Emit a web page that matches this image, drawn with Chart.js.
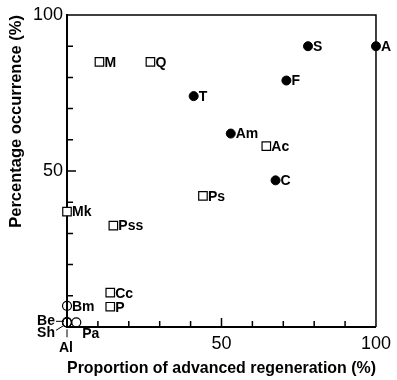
<!DOCTYPE html>
<html>
<head>
<meta charset="utf-8">
<script src="https://cdn.jsdelivr.net/npm/chart.js@4"></script>
<style>
  body { margin: 0; background: #fff; }
  #wrap { width: 397px; height: 380px; }
</style>
</head>
<body>
<div id="wrap"><canvas id="regenChart"></canvas></div>
<script>
// filled circles
const closedNames = ['A', 'S', 'F', 'T', 'Am', 'C'];
const closedX = [100, 78, 71, 41, 53, 67.5];
const closedY = [90, 90, 79, 74, 62, 47];

// open squares
const squareNames = ['M', 'Q', 'Ac', 'Ps', 'Mk', 'Pss', 'Cc', 'P'];
const squareX = [10.5, 27, 64.5, 44, 0, 15, 14, 14];
const squareY = [85, 85, 58, 42, 37, 32.5, 11, 6.5];

// open circles
const openNames = ['Bm', 'Be', 'Sh', 'Al', 'Pa'];
const openX = [0, 0, 0, 0, 3];
const openY = [6.8, 1.5, 1.5, 1.5, 1.5];

const tickValues = [10, 20, 30, 40, 50, 60, 70, 80, 90];
const tickLabels = [50, 100];

function toPoints(xs, ys) {
    return xs.map(function (x, i) { return { x: x, y: ys[i] }; });
}

// labels that sit away from their point, with a short leader line
const specialLabels = {
    Be: { dx: -12, dy: -1, align: 'right', line: [-11, -1, -3, -1] },
    Sh: { dx: -12, dy: 11, align: 'right', line: [-11, 8, -3, 3] },
    Al: { dx: -1, dy: 26, align: 'center', line: [0, 7, 0, 15] },
    Pa: { dx: 6, dy: 12, align: 'left', line: null }
};

const markLabels = {
    id: 'markLabels',
    afterDatasetsDraw(chart) {
        const ctx = chart.ctx;
        const area = chart.chartArea;
        const xs = chart.scales.x, ys = chart.scales.y;
        ctx.save();
        ctx.strokeStyle = '#000';

        // frame on top and right
        ctx.lineWidth = 1.5;
        ctx.beginPath();
        ctx.moveTo(area.left, area.top);
        ctx.lineTo(area.right, area.top);
        ctx.lineTo(area.right, area.bottom);
        ctx.stroke();

        // inward ticks
        ctx.lineWidth = 1.5;
        tickValues.forEach(function (v) {
            const len = v === 50 ? 9 : 6;
            const px = xs.getPixelForValue(v);
            const py = ys.getPixelForValue(v);
            ctx.beginPath();
            ctx.moveTo(px, area.bottom);
            ctx.lineTo(px, area.bottom - len);
            ctx.moveTo(area.left, py);
            ctx.lineTo(area.left + len, py);
            ctx.stroke();
        });

        ctx.font = 'bold 14px "Liberation Sans", Arial, sans-serif';
        ctx.fillStyle = '#000';
        ctx.textBaseline = 'middle';
        chart.data.datasets.forEach(function (ds, di) {
            const meta = chart.getDatasetMeta(di);
            meta.data.forEach(function (el, i) {
                const name = ds.names[i];
                const sp = specialLabels[name];
                ctx.lineWidth = 1;
                if (sp) {
                    if (sp.line) {
                        ctx.beginPath();
                        ctx.moveTo(el.x + sp.line[0], el.y + sp.line[1]);
                        ctx.lineTo(el.x + sp.line[2], el.y + sp.line[3]);
                        ctx.stroke();
                    }
                    ctx.textAlign = sp.align;
                    ctx.fillText(name, el.x + sp.dx, el.y + sp.dy);
                } else {
                    ctx.textAlign = 'left';
                    ctx.fillText(name, el.x + 5, el.y + 1);
                }
            });
        });
        ctx.restore();
    }
};

document.addEventListener('DOMContentLoaded', function () {
    const ctx = document.getElementById('regenChart');
    new Chart(ctx, {
        type: 'scatter',
        data: {
            datasets: [{
                names: closedNames,
                data: toPoints(closedX, closedY),
                pointStyle: 'circle',
                pointRadius: 4.5,
                backgroundColor: '#000',
                borderColor: '#000',
                borderWidth: 1
            }, {
                names: squareNames,
                data: toPoints(squareX, squareY),
                pointStyle: 'rect',
                pointRadius: 6,
                backgroundColor: '#fff',
                borderColor: '#000',
                borderWidth: 1.2
            }, {
                names: openNames,
                data: toPoints(openX, openY),
                pointStyle: 'circle',
                pointRadius: 4.5,
                backgroundColor: 'rgba(255,255,255,0)',
                borderColor: '#000',
                borderWidth: 1.2
            }]
        },
        plugins: [markLabels],
        options: {
            responsive: true,
            maintainAspectRatio: false,
            animation: false,
            clip: false,
            layout: { padding: { top: 15, right: 21, left: 0, bottom: 0 } },
            plugins: {
                legend: { display: false },
                tooltip: { enabled: false }
            },
            scales: {
                x: {
                    type: 'linear',
                    min: 0,
                    max: 100,
                    afterFit: function (scale) { scale.height = 53; },
                    grid: { display: false, drawTicks: false },
                    border: { display: true, color: '#000', width: 2 },
                    ticks: {
                        stepSize: 10,
                        autoSkip: false,
                        maxRotation: 0,
                        padding: 6,
                        color: '#000',
                        font: { family: '"Liberation Sans", Arial, sans-serif', size: 18 },
                        callback: function (v) { return tickLabels.includes(v) ? String(v) : ''; }
                    },
                    title: {
                        display: true,
                        text: 'Proportion of advanced regeneration (%)',
                        color: '#000',
                        padding: { top: 0, bottom: 2 },
                        font: { family: '"Liberation Sans", Arial, sans-serif', size: 16.5, weight: 'bold' }
                    }
                },
                y: {
                    type: 'linear',
                    min: 0,
                    max: 100,
                    afterFit: function (scale) { scale.width = 67; },
                    grid: { display: false, drawTicks: false },
                    border: { display: true, color: '#000', width: 2 },
                    ticks: {
                        stepSize: 10,
                        autoSkip: false,
                        padding: 4,
                        color: '#000',
                        font: { family: '"Liberation Sans", Arial, sans-serif', size: 18 },
                        callback: function (v) { return tickLabels.includes(v) ? String(v) : ''; }
                    },
                    title: {
                        display: true,
                        align: 'end',
                        text: 'Percentage occurrence (%)',
                        color: '#000',
                        padding: { top: 7, bottom: 0 },
                        font: { family: '"Liberation Sans", Arial, sans-serif', size: 16.5, weight: 'bold' }
                    }
                }
            }
        }
    });
});
</script>
</body>
</html>
